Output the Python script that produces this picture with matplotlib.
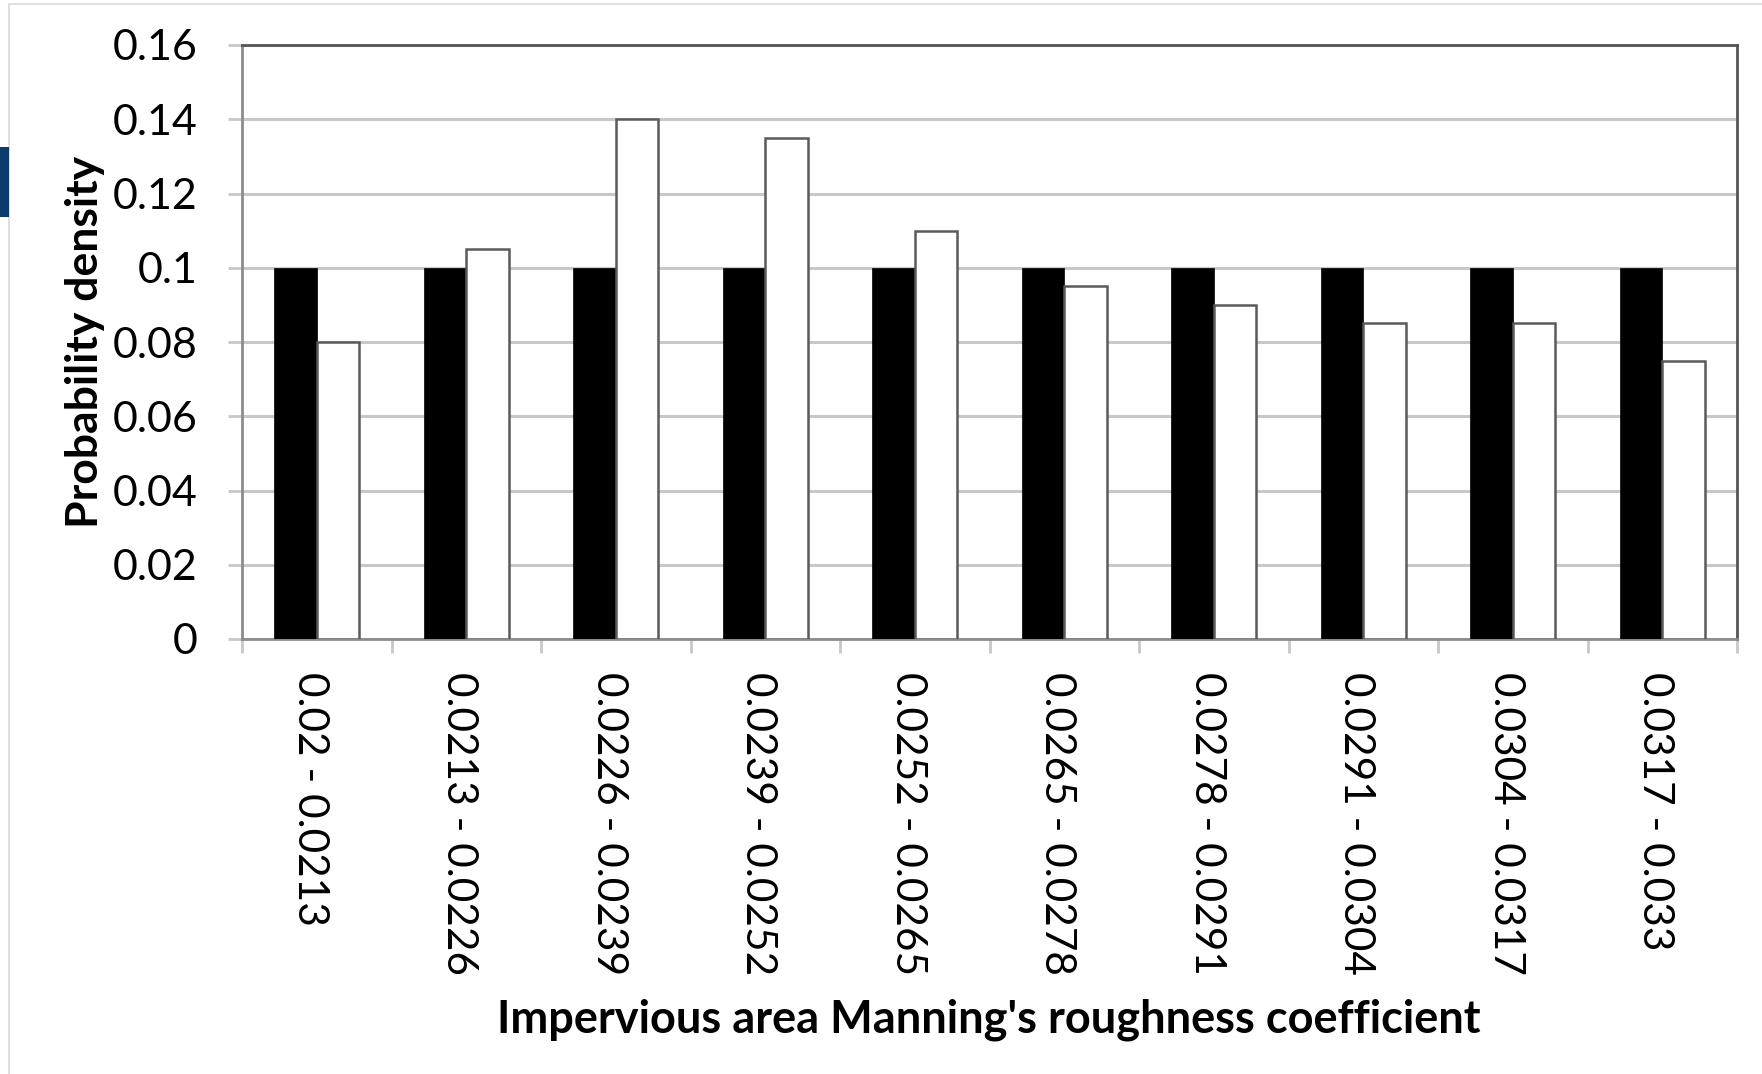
import numpy as np
import matplotlib
matplotlib.use("Agg")
import matplotlib.pyplot as plt
from matplotlib.patches import Rectangle
from matplotlib.transforms import ScaledTranslation

categories = ["0.02 - 0.0213", "0.0213 - 0.0226", "0.0226 - 0.0239", "0.0239 - 0.0252",
              "0.0252 - 0.0265", "0.0265 - 0.0278", "0.0278 - 0.0291", "0.0291 - 0.0304",
              "0.0304 - 0.0317", "0.0317 - 0.033"]
black_vals = [0.1, 0.1, 0.1, 0.1, 0.1, 0.1, 0.1, 0.1, 0.1, 0.1]
white_vals = [0.08, 0.105, 0.14, 0.135, 0.11, 0.095, 0.09, 0.085, 0.085, 0.075]
yticks = [0, 0.02, 0.04, 0.06, 0.08, 0.1, 0.12, 0.14, 0.16]
ytick_labels = ["0", "0.02", "0.04", "0.06", "0.08", "0.1", "0.12", "0.14", "0.16"]

plt.rcParams['font.family'] = ['Lato', 'DejaVu Sans']

W, H = 1762, 1074
fig = plt.figure(figsize=(W / 100, H / 100), dpi=100)

# outer frame and small blue tab on the left edge
fig.patches.append(Rectangle((9 / W, -0.01), 1.1, 1 - 4 / H + 0.01, transform=fig.transFigure,
                             fill=False, edgecolor='#d9d9d9', linewidth=1.2))
fig.patches.append(Rectangle((0, 1 - 217 / H), 9 / W, 70 / H, transform=fig.transFigure,
                             facecolor='#0b3a6b', edgecolor='none'))

ax = fig.add_axes([242 / W, 1 - 639 / H, (1737 - 242) / W, (639 - 45) / H])

x = np.arange(len(categories))
w = 1 / 3.5
ax.bar(x - w / 2, black_vals, w, color='black', edgecolor='black', linewidth=0.5, zorder=3)
ax.bar(x + w / 2, white_vals, w, color='white', edgecolor='#5a5a5a', linewidth=1.8, zorder=3)

ax.set_xlim(-0.5, len(categories) - 0.5)
ax.set_ylim(0, 0.16)
ax.set_yticks(yticks)
ax.set_yticklabels(ytick_labels, fontsize=31)
ax.yaxis.grid(True, color='#c8c8c8', linewidth=2.2, zorder=0)
ax.set_axisbelow(True)
ax.tick_params(axis='y', length=10, width=2, color='#c8c8c8', pad=22)

ax.set_xticks(x)
ax.set_xticklabels(categories, rotation=-90, fontsize=30.5, va='top', ha='center')
ax.set_xticks(np.arange(len(categories) + 1) - 0.5, minor=True)
ax.tick_params(axis='x', which='major', length=0, pad=24)
ax.tick_params(axis='x', which='minor', length=10, width=2, color='#c8c8c8')
shift = ScaledTranslation(-0.07, 0, fig.dpi_scale_trans)
for lbl in ax.get_xticklabels():
    lbl.set_transform(lbl.get_transform() + shift)

ax.spines['left'].set_color('#8c8c8c')
ax.spines['left'].set_linewidth(2)
ax.spines['bottom'].set_color('#8c8c8c')
ax.spines['bottom'].set_linewidth(2)
ax.spines['top'].set_color('#555555')
ax.spines['top'].set_linewidth(2)
ax.spines['right'].set_color('#555555')
ax.spines['right'].set_linewidth(2)

ax.set_ylabel("Probability density", fontsize=32, fontweight='bold')
ax.yaxis.set_label_coords(-137 / (1737 - 242), 0.5)
fig.text(989 / W, 1 - 1020 / H, "Impervious area Manning's roughness coefficient",
         fontsize=32.5, fontweight='bold', ha='center', va='center')

fig.savefig("out.png", dpi=100, facecolor='white')
